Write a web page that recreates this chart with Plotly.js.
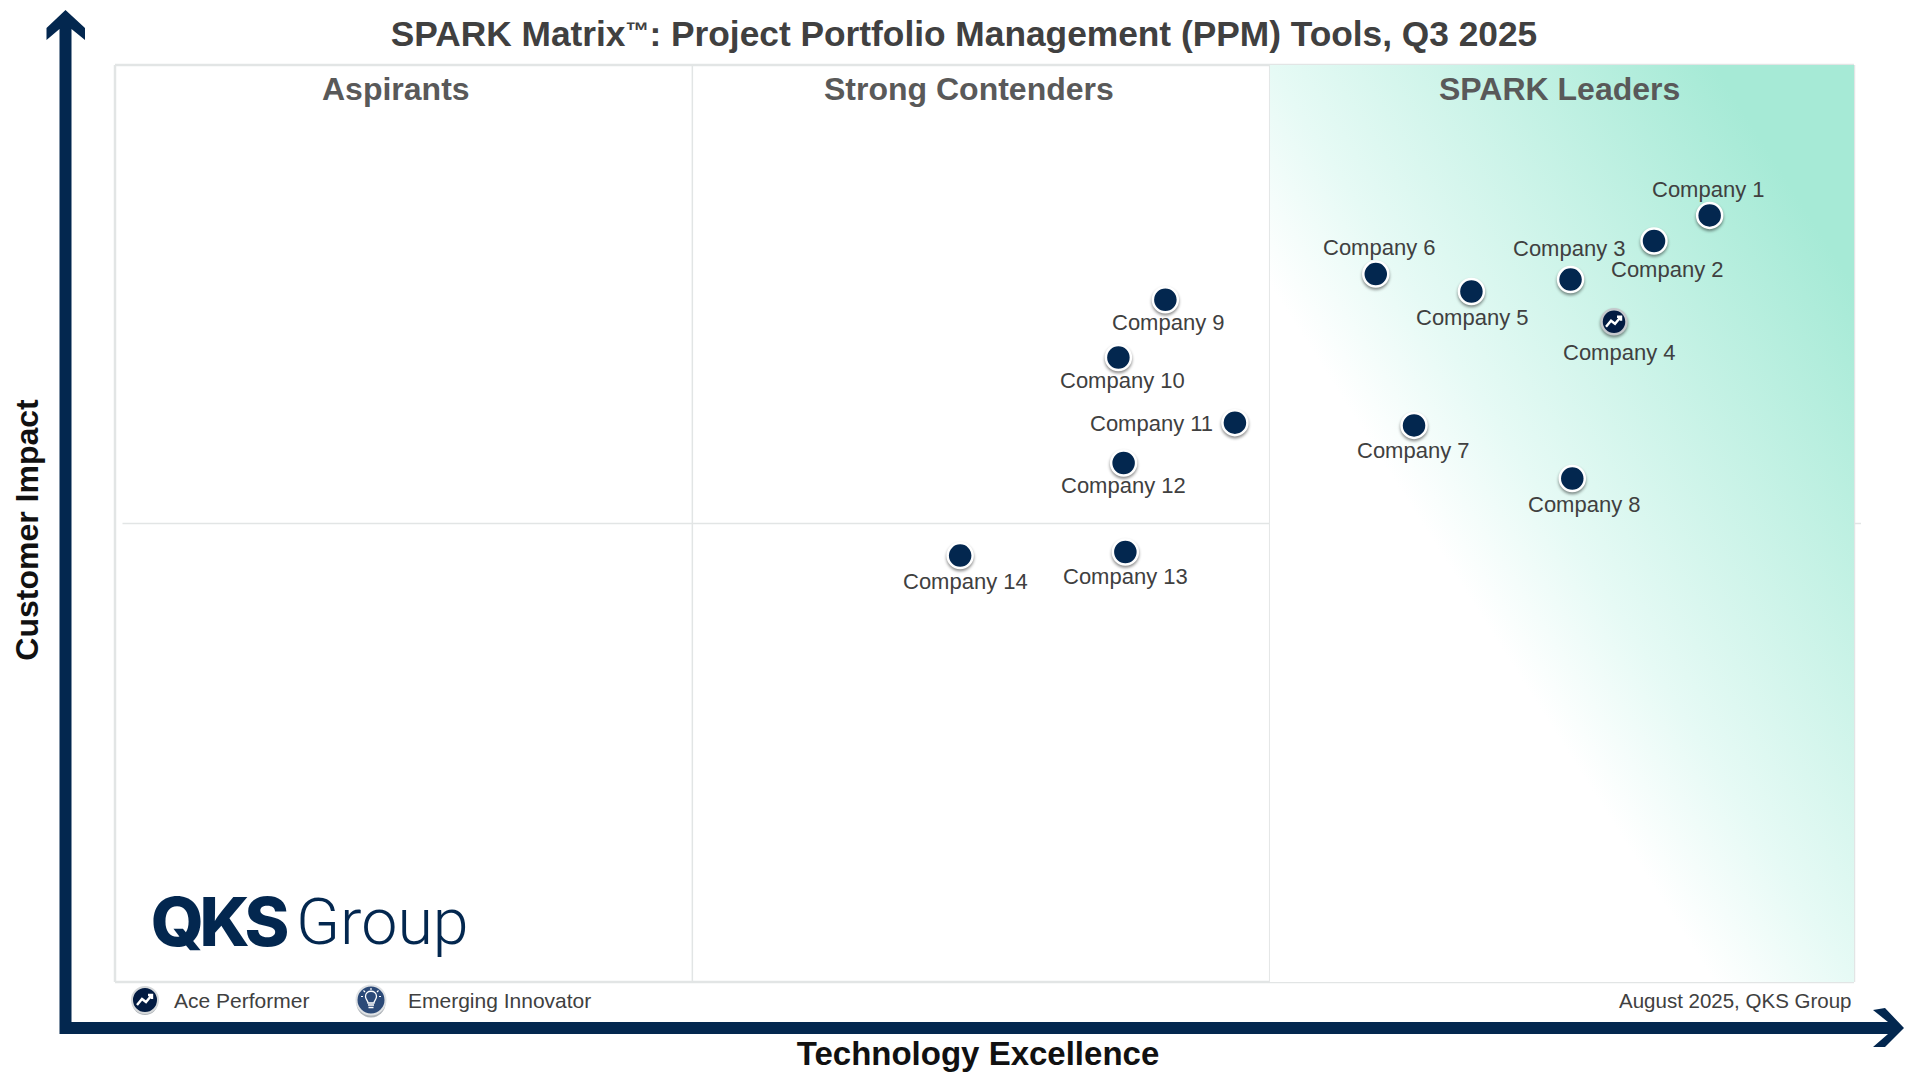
<!DOCTYPE html>
<html>
<head>
<meta charset="utf-8">
<title>SPARK Matrix</title>
<script src="https://cdn.plot.ly/plotly-3.0.1.min.js"></script>
<style>
html, body { margin: 0; padding: 0; background: #fff; overflow: hidden; }
#chart { width: 1920px; height: 1077px; }
/* soft shadow under the company dots */
.scatterlayer .points path { filter: drop-shadow(0 2px 1.5px rgba(0,0,0,0.45)); }
</style>
</head>
<body>
<div id="chart"></div>
<script>
const companies = ['Company 1', 'Company 2', 'Company 3', 'Company 4', 'Company 5', 'Company 6', 'Company 7',
    'Company 8', 'Company 9', 'Company 10', 'Company 11', 'Company 12', 'Company 13', 'Company 14'];
const technologyExcellence = [91.7, 88.5, 83.7, 86.2, 78.0, 72.5, 74.7, 83.8, 60.4, 57.7, 64.4, 58.0, 58.1, 48.6];
const customerImpact = [83.6, 80.8, 76.6, 72.0, 75.3, 77.2, 60.7, 54.9, 74.4, 68.1, 61.0, 56.6, 46.9, 46.5];
const acePerformers = ['Company 4'];
const quadrants = ['Aspirants', 'Strong Contenders', 'SPARK Leaders'];
const quadrantEdges = [0, 33.2, 66.4, 100];
const impactSplit = 50;

// label offset from each dot, in pixels
const labelDx = [-1, 13, -1, 5, 1, 4, -1, 12, 3, 4, -83, 0, 0, 5];
const labelDy = [26, -28, 31, -31, -26, 27, -25, -26, -23, -23, -1, -23, -25, -26];
const quadrantLabelX = [395.5, 968.5, 1559];

const W = 1920, H = 1077;
const navy = '#03274f';
const frame = '#e2e5e5';
const fontName = 'Liberation Sans, Arial, sans-serif';
const px = v => v / W;
const py = v => 1 - v / H;

// plot box in page pixels
const boxL = 115, boxR = 1854, boxT = 65, boxB = 982;
// axis domains reach a bit past the box so the axis titles sit where they do in the picture
const domL = 102, domB = 995;
const xUnit = (boxR - boxL) / 100, yUnit = (boxB - boxT) / 100;

// leaders quadrant fades along its diagonal, from white at lower left to teal at upper right
const gradientSvg = '<svg xmlns="http://www.w3.org/2000/svg" width="584" height="917" preserveAspectRatio="none">' +
    '<defs><linearGradient id="g" x1="0" y1="1" x2="1" y2="0">' +
    '<stop offset="0.38" stop-color="#ffffff"/><stop offset="0.5" stop-color="#e6faf5"/>' +
    '<stop offset="0.88" stop-color="#a6ead6"/><stop offset="1" stop-color="#a6ead6"/>' +
    '</linearGradient></defs><rect width="584" height="917" fill="url(#g)"/></svg>';

function isAce(name) { return acePerformers.includes(name); }

const regular = companies.map((c, i) => i).filter(i => !isAce(companies[i]));
const ace = companies.map((c, i) => i).filter(i => isAce(companies[i]));

const traces = [
    {
        type: 'scatter', mode: 'markers', name: 'Vendors',
        x: regular.map(i => technologyExcellence[i]),
        y: regular.map(i => customerImpact[i]),
        text: regular.map(i => companies[i]),
        hoverinfo: 'text',
        marker: { size: 25, color: navy, line: { color: '#ffffff', width: 2.5 } }
    },
    {
        type: 'scatter', mode: 'markers', name: 'Ace Performer',
        x: ace.map(i => technologyExcellence[i]),
        y: ace.map(i => customerImpact[i]),
        text: ace.map(i => companies[i]),
        hoverinfo: 'text',
        marker: { size: 25, color: '#021b42', line: { color: '#c4c8cc', width: 2.5 } }
    }
];

const zigzag = 'M -8,-5 L -3,1 L 1,-2 L 6,4 M 3,5 L 7,5 L 7,1';

function iconCircle(xa, ya, r, color, line) {
    return {
        type: 'circle', xref: 'paper', yref: 'paper', xsizemode: 'pixel', ysizemode: 'pixel',
        xanchor: px(xa), yanchor: py(ya), x0: -r, x1: r, y0: -r, y1: r,
        fillcolor: color, line: { color: line, width: 2 }
    };
}

function iconPath(xa, ya, path, width) {
    return {
        type: 'path', xref: 'paper', yref: 'paper', xsizemode: 'pixel', ysizemode: 'pixel',
        xanchor: px(xa), yanchor: py(ya), path: path,
        fillcolor: 'rgba(0,0,0,0)', line: { color: '#ffffff', width: width }
    };
}

function pagePath(points) {
    return 'M ' + points.map(p => px(p[0]) + ',' + py(p[1])).join(' L ') + ' Z';
}

function line(x0, y0, x1, y1, width) {
    return { type: 'line', xref: 'paper', yref: 'paper', x0: px(x0), y0: py(y0), x1: px(x1), y1: py(y1),
        line: { color: frame, width: width }, layer: 'below' };
}

const bulb = 'M -3,-3 C -3,-0.5 -5.5,0.5 -5.5,3.5 C -5.5,10.5 5.5,10.5 5.5,3.5 C 5.5,0.5 3,-0.5 3,-3 Z';
const bulbBase = 'M -3,-5 L 3,-5 M -2.5,-7.5 L 2.5,-7.5';
const bulbRays = 'M 0,12 L 0,10 M -7.5,9.5 L -6,8 M 7.5,9.5 L 6,8 M -10,3.5 L -8,3.5 M 10,3.5 L 8,3.5';

const shapes = [
    line(boxL, boxT, boxR, boxT, 2.5),
    line(boxL, boxB, boxR, boxB, 2.5),
    line(boxL, boxT, boxL, boxB, 2.5),
    line(boxR, boxT, boxR, boxB, 2.5),
    // quadrant dividers
    { type: 'line', xref: 'x', yref: 'paper', x0: quadrantEdges[1], x1: quadrantEdges[1], y0: py(boxB), y1: py(boxT), line: { color: frame, width: 1.5 }, layer: 'below' },
    { type: 'line', xref: 'x', yref: 'paper', x0: quadrantEdges[2], x1: quadrantEdges[2], y0: py(boxB), y1: py(boxT), line: { color: frame, width: 1.5 }, layer: 'below' },
    { type: 'line', xref: 'paper', yref: 'y', x0: px(122.5), x1: px(1861), y0: impactSplit, y1: impactSplit, line: { color: frame, width: 1.5 }, layer: 'below' },
    // axis arrows
    { type: 'path', xref: 'paper', yref: 'paper', line: { width: 0 }, fillcolor: navy,
      path: pagePath([[65.5, 10], [85, 28], [85, 40], [71.5, 29], [71.5, 1022], [1888, 1022], [1873, 1010], [1885, 1008], [1904, 1028],
          [1885, 1047], [1873, 1047], [1888, 1034], [59.5, 1034], [59.5, 29], [46.5, 40], [46.5, 28]]) },
    // white zigzag on the ace performer dot
    ...ace.map(i => ({
        type: 'path', xref: 'x', yref: 'y', xsizemode: 'pixel', ysizemode: 'pixel',
        xanchor: technologyExcellence[i], yanchor: customerImpact[i], path: zigzag,
        line: { color: '#ffffff', width: 2.4 }, fillcolor: 'rgba(0,0,0,0)'
    })),
    // legend icons
    iconCircle(145, 1002, 13, '#aeb3b8', 'rgba(0,0,0,0)'),
    iconCircle(145, 1000, 13, '#021b42', '#d5d8da'),
    iconPath(145, 1000, zigzag, 2.4),
    iconCircle(371, 1003, 14.5, '#aeb3b8', 'rgba(0,0,0,0)'),
    iconCircle(371, 1000, 14.5, '#2c4a78', '#dfe2e5'),
    iconPath(371, 1000, bulb, 1.3),
    iconPath(371, 1000, bulbBase, 1.4),
    iconPath(371, 1000, bulbRays, 1.2)
];

const annotations = [];
quadrants.forEach((q, i) => {
    annotations.push({
        xref: 'paper', yref: 'paper', x: px(quadrantLabelX[i]), y: py(89), xanchor: 'center', yanchor: 'middle',
        text: '<b>' + q + '</b>', showarrow: false,
        font: { family: fontName, size: 32, color: '#595959' }
    });
});
companies.forEach((c, i) => {
    annotations.push({
        xref: 'x', yref: 'y', x: technologyExcellence[i], y: customerImpact[i],
        xshift: labelDx[i], yshift: labelDy[i], text: c, showarrow: false,
        font: { family: fontName, size: 22, color: '#404040' }
    });
});
annotations.push(
    { xref: 'paper', yref: 'paper', x: px(142), y: py(921), xanchor: 'left', yanchor: 'middle', text: 'QKS', showarrow: false,
      font: { family: 'Inter, sans-serif', size: 68, weight: 800, color: navy } },
    { xref: 'paper', yref: 'paper', x: px(294), y: py(922), xanchor: 'left', yanchor: 'middle', text: 'Group', showarrow: false,
      font: { family: 'Roboto, sans-serif', size: 64.5, weight: 300, color: navy } },
    { xref: 'paper', yref: 'paper', x: px(172), y: py(1000), xanchor: 'left', yanchor: 'middle', text: 'Ace Performer', showarrow: false,
      font: { family: fontName, size: 21, color: '#404040' } },
    { xref: 'paper', yref: 'paper', x: px(406), y: py(1000), xanchor: 'left', yanchor: 'middle', text: 'Emerging Innovator', showarrow: false,
      font: { family: fontName, size: 21, color: '#404040' } },
    { xref: 'paper', yref: 'paper', x: px(1853), y: py(1000), xanchor: 'right', yanchor: 'middle', text: 'August 2025, QKS Group', showarrow: false,
      font: { family: fontName, size: 20.5, color: '#404040' } }
);

const layout = {
    width: W, height: H,
    margin: { l: 0, r: 0, t: 0, b: 0 },
    paper_bgcolor: '#ffffff', plot_bgcolor: 'rgba(0,0,0,0)',
    showlegend: false,
    font: { family: fontName },
    title: {
        text: '<b>SPARK Matrix<span style="font-size:24px">™</span><span style="font-size:35.3px">: Project Portfolio Management (PPM) Tools, Q3 2025</span></b>',
        x: px(964), xanchor: 'center', y: py(34), yanchor: 'middle',
        font: { family: fontName, size: 35.3, color: '#404040' }
    },
    xaxis: {
        domain: [px(domL), px(boxR)], range: [-(boxL - domL) / xUnit, 100],
        showgrid: false, zeroline: false, showticklabels: false, ticks: '', showline: false, fixedrange: true,
        title: { text: '<b>Technology Excellence</b>', standoff: 46, font: { family: fontName, size: 33, color: '#111111' } }
    },
    yaxis: {
        domain: [py(domB), py(boxT)], range: [-(domB - boxB) / yUnit, 100],
        showgrid: false, zeroline: false, showticklabels: false, ticks: '', showline: false, fixedrange: true,
        title: { text: '<b>Customer Impact</b>', standoff: 52, font: { family: fontName, size: 32, color: '#111111' } }
    },
    images: [{
        source: 'data:image/svg+xml;utf8,' + encodeURIComponent(gradientSvg),
        xref: 'x', yref: 'y', x: quadrantEdges[2], y: 100, sizex: 100 - quadrantEdges[2], sizey: 100,
        xanchor: 'left', yanchor: 'top', sizing: 'stretch', layer: 'below'
    }],
    shapes: shapes,
    annotations: annotations
};

Plotly.newPlot('chart', traces, layout, { displayModeBar: false, responsive: false }).then(() => {
    // the logo letters sit tight together
    document.querySelectorAll('.annotation-text').forEach(t => {
        if (t.textContent == 'QKS') t.style.letterSpacing = '-4.5px';
    });
    // lift the small trademark sign up to cap height
    document.querySelectorAll('.gtitle tspan').forEach(t => {
        if (t.textContent == '™') {
            t.setAttribute('dy', '-7');
            if (t.nextElementSibling) t.nextElementSibling.setAttribute('dy', '7');
        }
    });
});
</script>
</body>
</html>
